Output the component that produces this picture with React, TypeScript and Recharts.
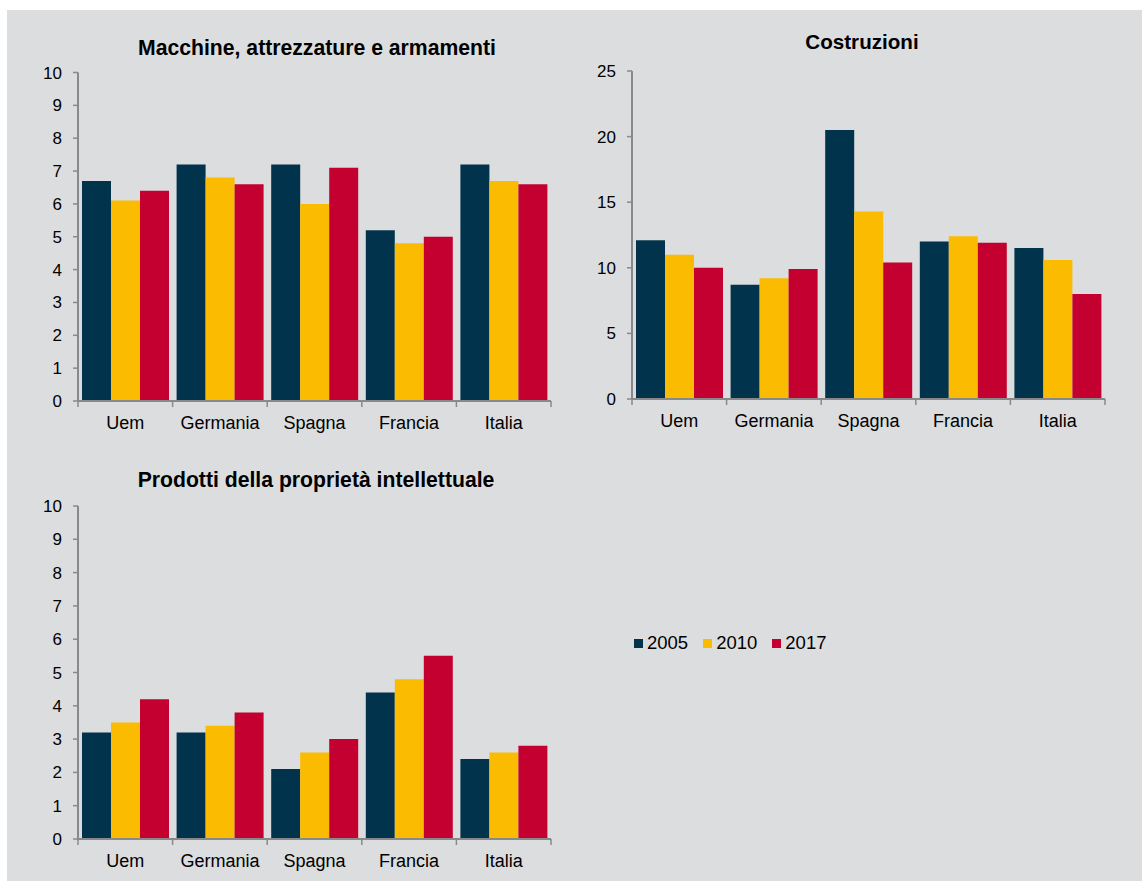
import React from 'react';
import { BarChart, Bar, XAxis, YAxis } from 'recharts';

const CATEGORIES = ['Uem', 'Germania', 'Spagna', 'Francia', 'Italia'];
const SERIES = ['2005', '2010', '2017'];
const COLORS = ['#02334c', '#fbbb00', '#c3002f'];

const TITLE_1 = 'Macchine, attrezzature e armamenti';
const TITLE_2 = 'Costruzioni';
const TITLE_3 = 'Prodotti della proprietà intellettuale';

const MACCHINE_2005 = [6.7, 7.2, 7.2, 5.2, 7.2];
const MACCHINE_2010 = [6.1, 6.8, 6.0, 4.8, 6.7];
const MACCHINE_2017 = [6.4, 6.6, 7.1, 5.0, 6.6];

const COSTRUZIONI_2005 = [12.1, 8.7, 20.5, 12.0, 11.5];
const COSTRUZIONI_2010 = [11.0, 9.2, 14.3, 12.4, 10.6];
const COSTRUZIONI_2017 = [10.0, 9.9, 10.4, 11.9, 8.0];

const PROPRIETA_2005 = [3.2, 3.2, 2.1, 4.4, 2.4];
const PROPRIETA_2010 = [3.5, 3.4, 2.6, 4.8, 2.6];
const PROPRIETA_2017 = [4.2, 3.8, 3.0, 5.5, 2.8];

const TICKS_10 = [0, 1, 2, 3, 4, 5, 6, 7, 8, 9, 10];
const TICKS_25 = [0, 5, 10, 15, 20, 25];

const FONT = '"Liberation Sans", Arial, Helvetica, sans-serif';
const AXIS = '#898989';
const BG = '#dcdddf';

const build = (a: number[], b: number[], c: number[]) =>
  CATEGORIES.map((name, i) => ({ name, [SERIES[0]]: a[i], [SERIES[1]]: b[i], [SERIES[2]]: c[i] }));

const data1 = build(MACCHINE_2005, MACCHINE_2010, MACCHINE_2017);
const data2 = build(COSTRUZIONI_2005, COSTRUZIONI_2010, COSTRUZIONI_2017);
const data3 = build(PROPRIETA_2005, PROPRIETA_2010, PROPRIETA_2017);

const CatTick = (props: any) => {
  const { x, y, payload, index, visibleTicksCount, width } = props;
  const n = typeof visibleTicksCount === 'number' ? visibleTicksCount : CATEGORIES.length;
  const w = typeof width === 'number' ? width : 473;
  const half = w / n / 2;
  return (
    <g>
      <line x1={x - half} x2={x - half} y1={y} y2={y + 6} stroke={AXIS} strokeWidth={1.5} />
      {index === n - 1 && (
        <line x1={x + half} x2={x + half} y1={y} y2={y + 6} stroke={AXIS} strokeWidth={1.5} />
      )}
      <text x={x} y={y + 28} textAnchor="middle" fontSize={18} fill="#000" fontFamily={FONT}>
        {payload.value}
      </text>
    </g>
  );
};

type PanelProps = {
  data: any[];
  left: number;
  top: number;
  width: number;
  height: number;
  margin: { top: number; right: number; left: number; bottom: number };
  max: number;
  ticks: number[];
};

const Panel = ({ data, left, top, width, height, margin, max, ticks }: PanelProps) => (
  <div style={{ position: 'absolute', left, top, width, height }}>
    <BarChart width={width} height={height} data={data} margin={margin} barGap={0} barCategoryGap={4}>
      <XAxis
        dataKey="name"
        interval={0}
        tickLine={false}
        tickSize={0}
        tickMargin={0}
        height={30}
        axisLine={{ stroke: AXIS, strokeWidth: 2 }}
        tick={<CatTick />}
      />
      <YAxis
        width={60}
        domain={[0, max]}
        ticks={ticks}
        interval={0}
        tickSize={5}
        tickMargin={11}
        axisLine={{ stroke: AXIS, strokeWidth: 2 }}
        tickLine={{ stroke: AXIS, strokeWidth: 1.5 }}
        tick={{ fontSize: 17, fill: '#000', fontFamily: FONT }}
      />
      {SERIES.map((s, i) => (
        <Bar key={s} dataKey={s} fill={COLORS[i]} isAnimationActive={false} />
      ))}
    </BarChart>
  </div>
);

const Title = ({ text, cx, cy, size }: { text: string; cx: number; cy: number; size: number }) => (
  <div
    style={{
      position: 'absolute',
      left: cx - 300,
      width: 600,
      top: cy - size * 0.49,
      textAlign: 'center',
      fontFamily: FONT,
      fontWeight: 'bold',
      fontSize: size,
      lineHeight: 1,
      color: '#000',
      whiteSpace: 'nowrap',
    }}
  >
    {text}
  </div>
);

const Legend = () => (
  <div
    style={{
      position: 'absolute',
      left: 634,
      top: 634,
      display: 'flex',
      alignItems: 'center',
      fontFamily: FONT,
      fontSize: 18.5,
      lineHeight: 1,
      color: '#000',
    }}
  >
    {SERIES.map((s, i) => (
      <div key={s} style={{ display: 'flex', alignItems: 'center', marginRight: 15 }}>
        <span style={{ display: 'inline-block', width: 9, height: 9, background: COLORS[i], marginRight: 4 }} />
        <span>{s}</span>
      </div>
    ))}
  </div>
);

export default function App() {
  return (
    <div style={{ position: 'absolute', left: 0, top: 0, width: 1147, height: 881, background: '#fff', overflow: 'hidden' }}>
      <div style={{ position: 'absolute', left: 7, top: 10, width: 1135, height: 871, background: BG }} />
      <Title text={TITLE_1} cx={317} cy={47} size={21.2} />
      <Title text={TITLE_2} cx={862} cy={42.5} size={20.6} />
      <Title text={TITLE_3} cx={316} cy={479} size={21.2} />
      <Panel data={data1} left={0} top={60} width={570} height={400}
        margin={{ top: 12.5, right: 19, left: 18, bottom: 29 }} max={10} ticks={TICKS_10} />
      <Panel data={data2} left={560} top={60} width={570} height={400}
        margin={{ top: 11, right: 25, left: 12, bottom: 31 }} max={25} ticks={TICKS_25} />
      <Panel data={data3} left={0} top={490} width={570} height={390}
        margin={{ top: 16, right: 19, left: 18, bottom: 11 }} max={10} ticks={TICKS_10} />
      <Legend />
    </div>
  );
}
